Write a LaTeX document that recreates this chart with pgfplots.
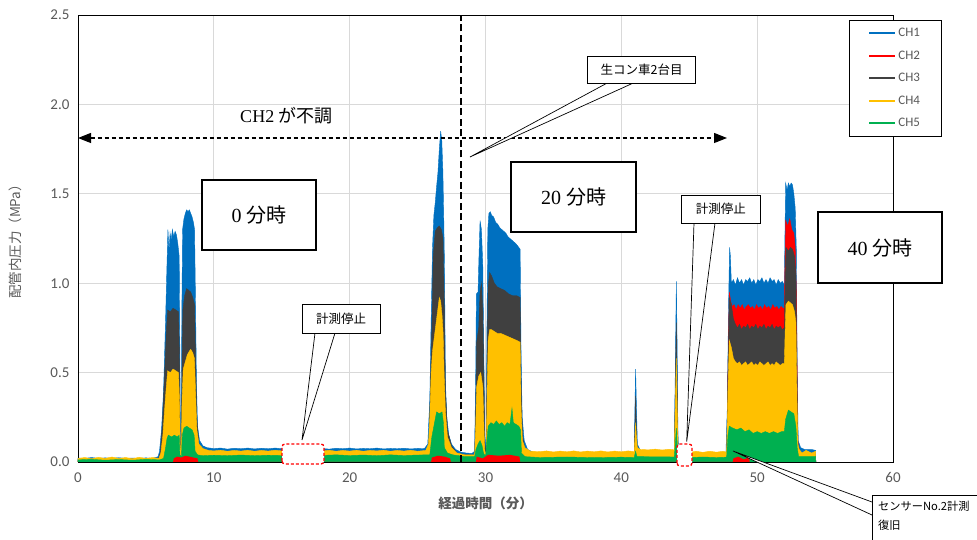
\documentclass[border=0pt]{standalone}
\usepackage{fontspec}
\usepackage{pgfplots}
\pgfplotsset{compat=1.18}
\usetikzlibrary{arrows.meta}
\setmainfont{Carlito}
\newfontfamily\cjk{Noto Sans CJK JP}
\newfontfamily\serifL{Liberation Serif}
\definecolor{c1}{HTML}{0070C0}
\definecolor{c2}{HTML}{FF0000}
\definecolor{c3}{HTML}{404040}
\definecolor{c4}{HTML}{FFC000}
\definecolor{c5}{HTML}{00B050}
\definecolor{tickgray}{HTML}{595959}
\begin{document}
\begin{tikzpicture}
\useasboundingbox (-78pt,-78pt) rectangle (899pt,462pt);
\begin{axis}[
  at={(0pt,0pt)}, anchor=south west,
  scale only axis, width=815pt, height=447pt,
  xmin=0, xmax=60, ymin=0, ymax=2.5,
  xtick={0,10,...,60}, ytick={0,0.5,...,2.5},
  grid=major, major grid style={draw=black!15, line width=0.8pt},
  axis line style={black, line width=0.8pt},
  major tick length=0pt,
  /pgf/number format/assume math mode=true,
  tick label style={font=\fontsize{15}{15}\selectfont, text=tickgray},
  yticklabel style={/pgf/number format/.cd, fixed, fixed zerofill, precision=1, /tikz/.cd, xshift=-5pt},
  xticklabel style={yshift=-7pt},
  legend style={at={(axis description cs:0.946,0.989)}, anchor=north west, draw=black, line width=0.8pt, fill=white,
    font=\fontsize{13}{13}\selectfont, text=tickgray, row sep=8.5pt, inner xsep=19pt, inner ysep=6pt},
  legend cell align=left,
  legend image code/.code={\draw[#1, line width=2pt] (0pt,0pt) -- (26pt,0pt);},
]
\addlegendimage{c1}\addlegendentry{CH1}
\addlegendimage{c2}\addlegendentry{CH2}
\addlegendimage{c3}\addlegendentry{CH3}
\addlegendimage{c4}\addlegendentry{CH4}
\addlegendimage{c5}\addlegendentry{CH5}
% CH1
\addplot[fill=c1, draw=c1, line width=0.4pt, forget plot] coordinates {
(0,0.022)(0.5,0.02)(1,0.025)(1.5,0.02)(2,0.023)(2.5,0.02)(3,0.024)(3.5,0.02)(4,0.022)(4.5,0.02)(5,0.023)(5.5,0.02)(5.9,0.03)
(6.0,0.06)(6.15,0.18)(6.3,0.4)(6.45,0.8)(6.55,1.1)(6.62,1.30)(6.7,1.18)(6.78,1.28)(6.86,1.24)(6.95,1.30)(7.05,1.26)(7.15,1.29)(7.25,1.27)(7.35,1.22)(7.45,1.15)(7.5,0.6)(7.55,0.09)(7.6,0.09)(7.64,0.8)(7.7,1.30)(7.8,1.36)(7.9,1.39)(8.0,1.41)(8.1,1.40)(8.2,1.41)(8.3,1.39)(8.4,1.37)(8.5,1.34)(8.58,1.30)(8.65,0.9)(8.72,0.45)(8.8,0.2)(8.95,0.12)(9.2,0.09)(9.5,0.08)
(10,0.075)(10.5,0.078)(11,0.072)(11.5,0.077)(12,0.074)(12.5,0.078)(13,0.073)(13.5,0.077)(14,0.074)(14.5,0.078)(15.05,0.074)(15.1,0)(18.0,0)(18.05,0.075)(18.5,0.072)(19,0.077)(19.5,0.074)(20,0.078)(20.5,0.073)(21,0.076)(21.5,0.074)(22,0.078)(22.5,0.073)(23,0.076)(23.5,0.074)(24,0.077)(24.5,0.073)(25,0.076)(25.5,0.075)
(25.75,0.1)(25.9,0.35)(26.0,0.8)(26.1,1.2)(26.2,1.38)(26.3,1.45)(26.4,1.54)(26.5,1.62)(26.6,1.75)(26.7,1.85)(26.78,1.80)(26.86,1.63)(26.93,1.35)(26.98,1.1)(27.05,0.45)(27.15,0.25)(27.3,0.15)(27.5,0.1)(27.8,0.07)(28.2,0.055)(28.6,0.05)(29.0,0.048)(29.2,0.06)
(29.28,0.5)(29.33,0.94)(29.45,0.95)(29.52,1.15)(29.6,1.35)(29.7,1.30)(29.8,1.1)(29.88,0.6)(29.95,0.15)(30.05,0.08)(30.1,0.7)(30.17,1.3)(30.25,1.39)(30.35,1.40)(30.45,1.38)(30.6,1.37)(30.75,1.34)(30.9,1.33)(31.05,1.31)(31.2,1.30)(31.35,1.29)(31.5,1.28)(31.65,1.26)(31.8,1.25)(31.95,1.24)(32.1,1.23)(32.25,1.22)(32.45,1.20)(32.55,1.19)(32.62,0.6)(32.7,0.25)(32.85,0.12)(33.1,0.07)(33.5,0.055)
(34,0.05)(35,0.052)(36,0.05)(37,0.052)(38,0.05)(39,0.051)(40,0.05)(40.95,0.05)(41.0,0.3)(41.05,0.52)(41.1,0.35)(41.18,0.1)(41.4,0.065)(42,0.055)(43,0.055)(43.9,0.055)(43.97,0.5)(44.05,1.01)(44.1,0.7)(44.17,0.15)(44.22,0.06)(44.25,0)(45.1,0)(45.15,0.05)(46,0.05)(47,0.05)(47.7,0.05)
(47.8,0.3)(47.9,0.9)(47.97,1.20)(48.03,1.15)(48.1,1.0)(48.25,1.02)(48.4,0.99)(48.55,1.03)(48.7,1.00)(48.85,1.02)(49.0,0.99)(49.15,1.02)(49.3,1.01)(49.45,1.03)(49.6,1.00)(49.75,1.02)(49.9,0.99)(50.05,1.02)(50.2,1.01)(50.35,1.03)(50.5,1.00)(50.65,1.02)(50.8,1.00)(50.95,1.03)(51.1,1.01)(51.25,1.02)(51.4,0.99)(51.55,1.02)(51.7,1.00)(51.85,1.01)(52.0,0.99)
(52.05,1.3)(52.1,1.56)(52.2,1.52)(52.3,1.56)(52.4,1.54)(52.5,1.56)(52.6,1.55)(52.7,1.50)(52.8,1.42)(52.88,1.2)(52.95,0.5)(53.02,0.12)(53.2,0.08)(53.5,0.07)(54,0.07)(54.3,0.065)(54.32,0)
} \closedcycle;
% CH2
\addplot[fill=c2, draw=c2, line width=0.4pt, forget plot] coordinates {
(0,0.005)(47.8,0.005)(47.85,0.5)(47.95,0.95)(48.05,0.90)(48.15,0.87)(48.3,0.88)(48.45,0.85)(48.6,0.88)(48.75,0.86)(48.9,0.88)(49.05,0.85)(49.2,0.87)(49.35,0.88)(49.5,0.86)(49.65,0.87)(49.8,0.85)(49.95,0.88)(50.1,0.86)(50.25,0.87)(50.4,0.85)(50.55,0.88)(50.7,0.86)(50.85,0.87)(51.0,0.85)(51.15,0.88)(51.3,0.86)(51.45,0.87)(51.6,0.85)(51.75,0.87)(51.9,0.86)(52.0,0.86)
(52.05,1.1)(52.1,1.35)(52.25,1.32)(52.4,1.36)(52.55,1.30)(52.7,1.28)(52.8,1.2)(52.9,0.9)(52.97,0.2)(53.05,0.01)(54.3,0.01)(54.32,0)
} \closedcycle;
% CH3
\addplot[fill=c3, draw=c3, line width=0.4pt, forget plot] coordinates {
(0,0.015)(5.9,0.015)(6.05,0.05)(6.2,0.2)(6.35,0.45)(6.5,0.72)(6.6,0.85)(6.8,0.84)(7.0,0.86)(7.2,0.85)(7.4,0.84)(7.47,0.6)(7.52,0.15)(7.6,0.05)(7.65,0.5)(7.72,0.85)(7.85,0.93)(8.0,0.97)(8.15,0.96)(8.3,0.95)(8.45,0.92)(8.58,0.88)(8.65,0.6)(8.75,0.25)(8.9,0.1)(9.2,0.06)(9.6,0.05)(15.05,0.05)(15.1,0)(18,0)(18.05,0.05)(25.7,0.05)
(25.85,0.12)(25.95,0.45)(26.05,0.75)(26.15,1.15)(26.3,1.29)(26.45,1.31)(26.6,1.32)(26.75,1.30)(26.87,1.25)(26.95,0.95)(27.05,0.4)(27.2,0.18)(27.5,0.09)(27.9,0.05)(28.5,0.04)(29.2,0.04)
(29.28,0.3)(29.35,0.67)(29.5,0.75)(29.6,0.95)(29.7,1.0)(29.8,0.85)(29.88,0.45)(29.95,0.1)(30.05,0.06)(30.12,0.6)(30.2,0.98)(30.3,1.06)(30.45,1.04)(30.65,1.0)(30.85,0.98)(31.1,0.97)(31.4,0.96)(31.7,0.94)(32.0,0.93)(32.3,0.93)(32.55,0.92)(32.62,0.45)(32.72,0.15)(32.9,0.07)(33.3,0.04)
(34,0.03)(40.95,0.03)(41.0,0.2)(41.05,0.37)(41.1,0.2)(41.18,0.05)(41.4,0.035)(43.9,0.035)(43.97,0.4)(44.05,0.78)(44.1,0.5)(44.17,0.1)(44.22,0.04)(44.25,0)(45.1,0)(45.15,0.03)(47.75,0.03)
(47.85,0.5)(47.95,0.92)(48.1,0.88)(48.25,0.80)(48.4,0.77)(48.55,0.75)(48.7,0.77)(48.85,0.74)(49.0,0.76)(49.15,0.75)(49.3,0.77)(49.45,0.74)(49.6,0.76)(49.75,0.75)(49.9,0.77)(50.05,0.74)(50.2,0.76)(50.35,0.75)(50.5,0.77)(50.65,0.74)(50.8,0.76)(50.95,0.75)(51.1,0.77)(51.25,0.74)(51.4,0.76)(51.55,0.75)(51.7,0.76)(51.85,0.74)(52.0,0.75)
(52.05,0.95)(52.12,1.2)(52.3,1.18)(52.45,1.20)(52.6,1.19)(52.75,1.15)(52.85,1.05)(52.93,0.5)(53.0,0.1)(53.2,0.05)(54.3,0.04)(54.32,0)
} \closedcycle;
% CH4
\addplot[fill=c4, draw=c4, line width=0.4pt, forget plot] coordinates {
(0,0.02)(0.5,0.025)(1,0.018)(1.5,0.026)(2,0.02)(2.5,0.028)(3,0.02)(3.5,0.025)(4,0.019)(4.5,0.026)(5,0.02)(5.5,0.025)(5.95,0.02)
(6.1,0.05)(6.25,0.15)(6.4,0.32)(6.5,0.42)(6.6,0.51)(6.8,0.50)(7.0,0.52)(7.2,0.51)(7.4,0.50)(7.47,0.35)(7.52,0.1)(7.6,0.04)(7.66,0.35)(7.75,0.52)(7.9,0.56)(8.05,0.60)(8.2,0.62)(8.3,0.63)(8.45,0.61)(8.57,0.58)(8.65,0.4)(8.75,0.18)(8.9,0.1)(9.2,0.075)(9.6,0.065)
(10,0.062)(10.5,0.066)(11,0.06)(11.5,0.065)(12,0.061)(12.5,0.066)(13,0.06)(13.5,0.065)(14,0.061)(14.5,0.066)(15.05,0.062)(15.1,0)(18.0,0)(18.05,0.062)(18.5,0.066)(19,0.06)(19.5,0.065)(20,0.061)(20.5,0.066)(21,0.06)(21.5,0.065)(22,0.062)(22.5,0.066)(23,0.06)(23.5,0.065)(24,0.061)(24.5,0.066)(25,0.06)(25.6,0.065)
(25.8,0.1)(25.9,0.25)(26.0,0.5)(26.1,0.62)(26.2,0.68)(26.3,0.74)(26.4,0.80)(26.5,0.86)(26.6,0.92)(26.7,0.90)(26.8,0.82)(26.88,0.72)(26.95,0.5)(27.05,0.28)(27.2,0.14)(27.5,0.08)(27.9,0.05)(28.5,0.04)(29.2,0.04)
(29.28,0.2)(29.35,0.42)(29.5,0.48)(29.65,0.5)(29.8,0.42)(29.88,0.2)(29.95,0.06)(30.05,0.05)(30.12,0.4)(30.2,0.68)(30.3,0.74)(30.45,0.74)(30.65,0.73)(30.85,0.72)(31.1,0.72)(31.4,0.71)(31.7,0.70)(32.0,0.69)(32.3,0.68)(32.55,0.67)(32.62,0.3)(32.72,0.12)(32.9,0.08)(33.3,0.06)
(34,0.058)(34.5,0.062)(35,0.056)(35.5,0.061)(36,0.057)(36.5,0.062)(37,0.056)(37.5,0.061)(38,0.057)(38.5,0.062)(39,0.056)(39.5,0.061)(40,0.057)(40.5,0.062)(40.95,0.058)(41.0,0.13)(41.05,0.22)(41.1,0.15)(41.18,0.08)(41.4,0.07)(42,0.068)(42.5,0.072)(43,0.067)(43.5,0.071)(43.9,0.068)
(43.97,0.3)(44.05,0.58)(44.1,0.35)(44.17,0.09)(44.22,0.06)(44.25,0)(45.1,0)(45.15,0.055)(45.5,0.06)(46,0.054)(46.5,0.06)(47,0.055)(47.5,0.06)(47.75,0.055)
(47.85,0.4)(47.95,0.68)(48.1,0.64)(48.25,0.58)(48.4,0.56)(48.55,0.55)(48.7,0.56)(48.85,0.54)(49.0,0.55)(49.15,0.56)(49.3,0.54)(49.45,0.55)(49.6,0.56)(49.75,0.54)(49.9,0.55)(50.05,0.54)(50.2,0.56)(50.35,0.55)(50.5,0.54)(50.65,0.55)(50.8,0.56)(50.95,0.54)(51.1,0.55)(51.25,0.54)(51.4,0.56)(51.55,0.55)(51.7,0.54)(51.85,0.55)(52.0,0.55)
(52.05,0.7)(52.12,0.88)(52.3,0.90)(52.45,0.89)(52.6,0.88)(52.75,0.84)(52.85,0.78)(52.93,0.35)(53.0,0.1)(53.1,0.07)(53.3,0.05)(53.6,0.065)(54,0.05)(54.3,0.06)(54.32,0)
} \closedcycle;
% CH5
\addplot[fill=c5, draw=c5, line width=0.4pt, forget plot] coordinates {
(0,0.012)(1,0.015)(2,0.01)(3,0.014)(4,0.01)(5,0.015)(6,0.012)(6.3,0.02)(6.45,0.08)(6.55,0.13)(6.65,0.15)(6.9,0.14)(7.1,0.15)(7.3,0.14)(7.45,0.15)(7.5,0.04)(7.62,0.03)(7.68,0.15)(7.8,0.19)(8.0,0.20)(8.2,0.19)(8.4,0.18)(8.55,0.15)(8.62,0.06)(8.8,0.04)(9.2,0.035)
(10,0.038)(11,0.035)(12,0.039)(13,0.035)(14,0.038)(15.05,0.036)(15.1,0)(18.0,0)(18.05,0.037)(19,0.04)(20,0.036)(21,0.039)(22,0.035)(23,0.04)(24,0.036)(25,0.039)(25.9,0.04)
(26.05,0.14)(26.2,0.2)(26.4,0.28)(26.6,0.27)(26.8,0.28)(26.9,0.22)(26.97,0.08)(27.2,0.05)(27.6,0.04)(28.5,0.03)(29.2,0.03)
(29.3,0.07)(29.45,0.1)(29.6,0.12)(29.75,0.09)(29.85,0.05)(30.0,0.03)(30.1,0.12)(30.2,0.2)(30.4,0.22)(30.6,0.21)(30.8,0.23)(31.0,0.21)(31.2,0.22)(31.4,0.20)(31.6,0.22)(31.8,0.21)(31.95,0.30)(32.05,0.22)(32.25,0.21)(32.45,0.20)(32.58,0.18)(32.65,0.05)(32.9,0.03)
(34,0.025)(36,0.028)(38,0.024)(40,0.027)(40.95,0.025)(41.05,0.06)(41.15,0.03)(43.9,0.028)(43.97,0.1)(44.05,0.19)(44.1,0.12)(44.17,0.04)(44.22,0.03)(44.25,0)(45.1,0)(45.15,0.025)(46,0.028)(47,0.025)(47.75,0.027)
(47.85,0.15)(47.95,0.20)(48.2,0.19)(48.5,0.18)(48.8,0.19)(49.1,0.17)(49.4,0.18)(49.7,0.16)(50.0,0.17)(50.3,0.16)(50.6,0.17)(50.9,0.16)(51.2,0.17)(51.5,0.16)(51.8,0.17)(52.0,0.17)
(52.1,0.24)(52.3,0.29)(52.5,0.28)(52.7,0.27)(52.85,0.2)(52.95,0.08)(53.05,0.03)(54.3,0.03)(54.32,0)
} \closedcycle;
% CH2 near zero, visible below CH5
\addplot[fill=c2, draw=none, forget plot] coordinates {
(7.0,0)(7.05,0.02)(7.3,0.03)(7.6,0.025)(7.9,0.035)(8.2,0.03)(8.5,0.025)(8.8,0.02)(8.85,0)
(26.0,0)(26.05,0.025)(26.5,0.035)(27.0,0.03)(27.4,0.02)(27.45,0)
(29.3,0)(29.35,0.03)(29.8,0.02)(30.2,0.04)(31,0.035)(31.8,0.04)(32.5,0.03)(32.55,0)
(48.2,0)(48.25,0.02)(48.6,0.03)(49,0.015)(49.4,0.025)(49.45,0)
} \closedcycle;
\end{axis}
\begin{scope}[x=1pt,y=1pt]
% axis labels
\node[rotate=90, text=tickgray, font=\cjk\fontsize{13.5}{13.5}\selectfont] at (-63,223.5) {配管内圧力（MPa）};
\node[text=tickgray, font=\cjk\bfseries\fontsize{13.5}{13.5}\selectfont] at (407.5,-41) {経過時間（分）};
% vertical dashed line
\draw[line width=2.6pt, dash pattern=on 7pt off 3.5pt] (383,0) -- (383,447);
% CH2 arrow
\draw[line width=1.1pt, dash pattern=on 4pt off 3pt, {Triangle[length=13pt,width=10pt]}-{Triangle[length=13pt,width=10pt]}] (0,324) -- (649,324);
\node[font=\fontsize{18}{18}\selectfont] at (208.5,346) {\serifL CH2 \cjk が不調};
% time boxes
\draw[line width=1.6pt, fill=white] (124,212) rectangle (238,282);
\node[font=\fontsize{20}{20}\selectfont] at (181,247) {\serifL 0 \cjk 分時};
\draw[line width=1.6pt, fill=white] (433,230) rectangle (558,300);
\node[font=\fontsize{20}{20}\selectfont] at (495.5,265) {\serifL 20 \cjk 分時};
\draw[line width=1.6pt, fill=white] (740,179) rectangle (864,250);
\node[font=\fontsize{20}{20}\selectfont] at (802,214.5) {\serifL 40 \cjk 分時};
% callout: 生コン車2台目
\filldraw[fill=white, draw=black, line width=0.7pt] (528.7,378.7) -- (392,305) -- (554.7,378.7);
\draw[fill=white, line width=0.7pt] (509.7,378.7) rectangle (617.7,406);
\node[font=\cjk\fontsize{12.5}{12.5}\selectfont] at (563.7,392.3) {生コン車2台目};
% callout: 計測停止 1
\draw[red, line width=1.3pt, dash pattern=on 3pt off 2pt, rounded corners=3pt, fill=white] (204,-2) rectangle (246,18);
\filldraw[fill=white, draw=black, line width=0.7pt] (237,129) -- (224,22) -- (257,129);
\draw[fill=white, line width=0.7pt] (224,129) rectangle (302,158);
\node[font=\cjk\fontsize{12.5}{12.5}\selectfont] at (263,143.5) {計測停止};
% callout: 計測停止 2
\draw[red, line width=1.3pt, dash pattern=on 3pt off 2pt, rounded corners=3pt, fill=white] (599,-4) rectangle (614,18);
\filldraw[fill=white, draw=black, line width=0.7pt] (616,239) -- (608.7,20.3) -- (637,239);
\draw[fill=white, line width=0.7pt] (603.7,239) rectangle (682,267);
\node[font=\cjk\fontsize{12.5}{12.5}\selectfont] at (642.85,253) {計測停止};
% callout: センサーNo.2計測復旧
\filldraw[fill=white, draw=black, line width=0.7pt] (794,-40) -- (655,11) -- (794,-53);
\draw[fill=white, line width=0.7pt] (794,-33) rectangle (990,-95);
\node[font=\cjk\fontsize{11.2}{19}\selectfont, align=left, anchor=north west, inner sep=0pt] at (800,-39) {センサーNo.2計測\\復旧};
\end{scope}
\end{tikzpicture}
\end{document}
